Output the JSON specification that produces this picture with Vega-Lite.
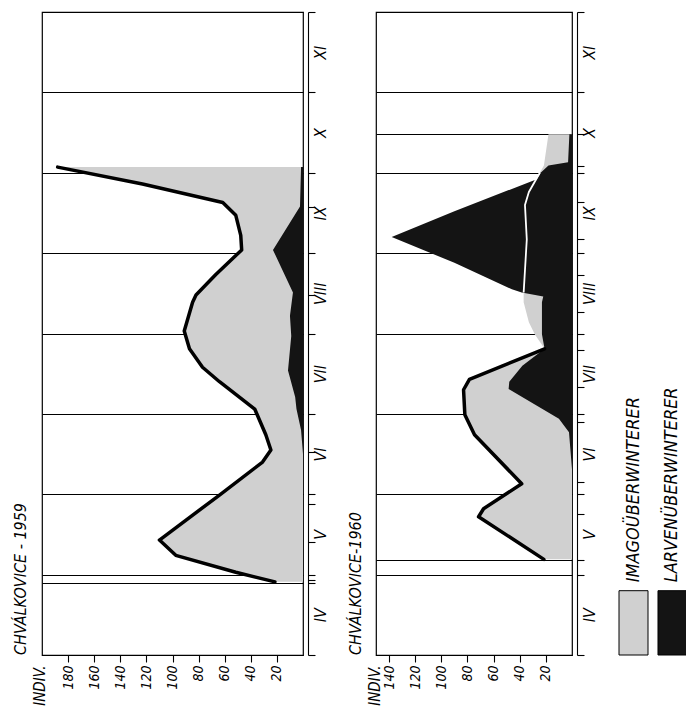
{
  "$schema": "https://vega.github.io/schema/vega-lite/v6.json",
  "background": "white",
  "padding": {"left": 12, "top": 10, "right": 0, "bottom": 0},
  "datasets": {
    "imago59": [
      {"month": 4.91, "n": 21.5}, {"month": 5.03, "n": 51.5}, {"month": 5.24, "n": 97.5}, {"month": 5.43, "n": 110},
      {"month": 5.99, "n": 64}, {"month": 6.4, "n": 31}, {"month": 6.55, "n": 24.6}, {"month": 6.74, "n": 28.5},
      {"month": 7.06, "n": 37}, {"month": 7.4, "n": 64}, {"month": 7.58, "n": 77}, {"month": 7.81, "n": 87},
      {"month": 8.03, "n": 91}, {"month": 8.39, "n": 84.6}, {"month": 8.48, "n": 82}, {"month": 8.73, "n": 67},
      {"month": 9.04, "n": 47}, {"month": 9.22, "n": 47.7}, {"month": 9.47, "n": 51.5}, {"month": 9.63, "n": 61.5},
      {"month": 9.86, "n": 123}, {"month": 10.07, "n": 188}
    ],
    "larvae59": [
      {"month": 6.5, "n": 0}, {"month": 6.8, "n": 1.5}, {"month": 7.06, "n": 5}, {"month": 7.21, "n": 6},
      {"month": 7.54, "n": 11.5}, {"month": 7.97, "n": 9}, {"month": 8.22, "n": 10}, {"month": 8.51, "n": 7.7},
      {"month": 9.04, "n": 23}, {"month": 9.58, "n": 2.3}, {"month": 10.07, "n": 1.5}
    ],
    "imago60": [
      {"month": 5.19, "n": 21.5}, {"month": 5.72, "n": 71.5}, {"month": 5.82, "n": 67.7}, {"month": 6.13, "n": 38.5},
      {"month": 6.74, "n": 74.6}, {"month": 6.99, "n": 82}, {"month": 7.3, "n": 83}, {"month": 7.43, "n": 78.5},
      {"month": 7.81, "n": 21}, {"month": 7.99, "n": 28.5}, {"month": 8.14, "n": 33}, {"month": 8.39, "n": 37},
      {"month": 8.51, "n": 37}, {"month": 9.17, "n": 34.6}, {"month": 9.6, "n": 36}, {"month": 9.76, "n": 33},
      {"month": 10.0, "n": 24.6}, {"month": 10.09, "n": 21.5}, {"month": 10.48, "n": 18}
    ],
    "larvae60": [
      {"month": 6.31, "n": 0}, {"month": 6.77, "n": 2.3}, {"month": 6.94, "n": 10}, {"month": 7.31, "n": 48.5},
      {"month": 7.4, "n": 48}, {"month": 7.6, "n": 38}, {"month": 7.81, "n": 21}, {"month": 7.99, "n": 23},
      {"month": 8.39, "n": 23}, {"month": 8.46, "n": 22}, {"month": 8.51, "n": 38.5}, {"month": 8.55, "n": 46},
      {"month": 8.88, "n": 90}, {"month": 9.2, "n": 138}, {"month": 9.52, "n": 90}, {"month": 9.92, "n": 27},
      {"month": 10.0, "n": 24}, {"month": 10.09, "n": 18}, {"month": 10.13, "n": 3}, {"month": 10.48, "n": 2}
    ],
    "legend": [
      {"series": "IMAGOÜBERWINTERER"},
      {"series": "LARVENÜBERWINTERER"}
    ]
  },
  "hconcat": [
    {
      "hconcat": [
        {
          "width": 261,
          "height": 643,
          "title": {"text": "CHVÁLKOVICE - 1959", "orient": "left", "anchor": "start", "frame": "group", "fontStyle": "italic", "fontWeight": "normal", "fontSize": 16, "offset": 3},
          "encoding": {
            "y": {"field": "month", "type": "quantitative",
              "scale": {"domain": [4, 12], "nice": false, "zero": false},
              "axis": {"orient": "right", "offset": 5, "title": null,
                "values": [4, 4.5, 4.9, 4.93, 5, 5.41, 5.5, 5.88, 6, 6.5, 6.52, 7, 7.5, 8, 8.48, 8.5, 9, 9.5, 9.57, 10, 10.5, 11, 11.5, 12],
                "labelExpr": "datum.value==4.5?'IV':datum.value==5.5?'V':datum.value==6.5?'VI':datum.value==7.5?'VII':datum.value==8.5?'VIII':datum.value==9.5?'IX':datum.value==10.5?'X':datum.value==11.5?'XI':''",
                "labelAngle": 270, "labelAlign": "center", "labelBaseline": "top", "labelPadding": -3, "labelFontSize": 16,
                "labelOverlap": false, "labelFlush": false, "labelBound": false,
                "tickSize": 7,
                "tickOpacity": {"condition": {"test": "datum.value % 1 === 0.5", "value": 0}, "value": 1},
                "grid": true, "gridColor": "black", "gridWidth": 1.1,
                "gridOpacity": {"condition": {"test": "datum.value % 1 === 0 || datum.value === 4.9", "value": 1}, "value": 0}
              }},
            "x": {"field": "n", "type": "quantitative", "stack": null,
              "scale": {"domain": [0, 200], "reverse": true, "nice": false},
              "axis": {"values": [20, 40, 60, 80, 100, 120, 140, 160, 180], "title": "INDIV.",
                "titleAngle": 270, "titleAlign": "right", "titleBaseline": "middle", "titleX": -3, "titleY": 10,
                "titleFontStyle": "italic", "titleFontWeight": "normal", "titleFontSize": 15,
                "labelAngle": 270, "labelAlign": "right", "labelBaseline": "middle", "labelPadding": 3,
                "tickSize": 7, "domain": false, "grid": false, "labelOverlap": false}}
          },
          "layer": [
            {"data": {"name": "imago59"}, "mark": {"type": "area", "orient": "horizontal", "color": "#d0d0d0"}},
            {"data": {"name": "larvae59"}, "mark": {"type": "area", "orient": "horizontal", "color": "#141414"}},
            {"data": {"name": "imago59"}, "mark": {"type": "line", "color": "black", "strokeWidth": 3.5, "strokeJoin": "round", "strokeCap": "round"},
              "encoding": {"order": {"field": "month", "type": "quantitative"}}}
          ]
        },
        {
          "width": 196,
          "height": 643,
          "title": {"text": "CHVÁLKOVICE-1960", "orient": "left", "anchor": "start", "frame": "group", "fontStyle": "italic", "fontWeight": "normal", "fontSize": 16, "offset": 3},
          "encoding": {
            "y": {"field": "month", "type": "quantitative",
              "scale": {"domain": [4, 12], "nice": false, "zero": false},
              "axis": {"orient": "right", "offset": 5, "title": null,
                "values": [4, 4.5, 5, 5.18, 5.5, 5.75, 6, 6.15, 6.5, 6.9, 7, 7.33, 7.5, 7.79, 8, 8.27, 8.5, 8.73, 9, 9.17, 9.5, 9.63, 10, 10.09, 10.48, 10.5, 11, 11.5, 12],
                "labelExpr": "datum.value==4.5?'IV':datum.value==5.5?'V':datum.value==6.5?'VI':datum.value==7.5?'VII':datum.value==8.5?'VIII':datum.value==9.5?'IX':datum.value==10.5?'X':datum.value==11.5?'XI':''",
                "labelAngle": 270, "labelAlign": "center", "labelBaseline": "top", "labelPadding": -3, "labelFontSize": 16,
                "labelOverlap": false, "labelFlush": false, "labelBound": false,
                "tickSize": 7,
                "tickOpacity": {"condition": {"test": "datum.value % 1 === 0.5", "value": 0}, "value": 1},
                "grid": true, "gridColor": "black", "gridWidth": 1.1,
                "gridOpacity": {"condition": {"test": "datum.value % 1 === 0 || datum.value === 5.18 || datum.value === 10.48", "value": 1}, "value": 0}
              }},
            "x": {"field": "n", "type": "quantitative", "stack": null,
              "scale": {"domain": [0, 150], "reverse": true, "nice": false},
              "axis": {"values": [20, 40, 60, 80, 100, 120, 140], "title": "INDIV.",
                "titleAngle": 270, "titleAlign": "right", "titleBaseline": "middle", "titleX": -2, "titleY": 10,
                "titleFontStyle": "italic", "titleFontWeight": "normal", "titleFontSize": 15,
                "labelAngle": 270, "labelAlign": "right", "labelBaseline": "middle", "labelPadding": 3,
                "tickSize": 7, "domain": false, "grid": false, "labelOverlap": false}}
          },
          "layer": [
            {"data": {"name": "imago60"}, "mark": {"type": "area", "orient": "horizontal", "color": "#d0d0d0"}},
            {"data": {"name": "larvae60"}, "mark": {"type": "area", "orient": "horizontal", "color": "#141414"}},
            {"data": {"name": "imago60"}, "transform": [{"filter": "datum.month <= 7.81"}],
              "mark": {"type": "line", "color": "black", "strokeWidth": 3.5, "strokeJoin": "round", "strokeCap": "round"},
              "encoding": {"order": {"field": "month", "type": "quantitative"}}},
            {"data": {"name": "imago60"}, "transform": [{"filter": "datum.month >= 8.51 && datum.month <= 10.0"}],
              "mark": {"type": "line", "color": "white", "strokeWidth": 1.8, "strokeJoin": "round"},
              "encoding": {"order": {"field": "month", "type": "quantitative"}}}
          ]
        }
      ],
      "spacing": 18
    },
    {
      "width": 68,
      "height": 643,
      "view": {"stroke": null},
      "data": {"name": "legend"},
      "encoding": {
        "x": {"field": "series", "type": "nominal", "sort": null, "axis": null,
          "scale": {"paddingInner": 0.256, "paddingOuter": 0}}
      },
      "layer": [
        {"mark": {"type": "bar", "stroke": "black", "strokeWidth": 1},
          "encoding": {
            "y": {"datum": 0, "type": "quantitative", "scale": {"domain": [0, 100], "nice": false}, "axis": null},
            "y2": {"datum": 10},
            "fill": {"field": "series", "type": "nominal", "scale": {"range": ["#d0d0d0", "#141414"]}, "legend": null}
          }},
        {"mark": {"type": "text", "angle": 270, "align": "left", "baseline": "middle", "fontStyle": "italic", "fontSize": 18, "color": "black"},
          "encoding": {
            "y": {"datum": 11.3, "type": "quantitative"},
            "text": {"field": "series", "type": "nominal"}
          }}
      ]
    }
  ],
  "spacing": 20,
  "config": {
    "font": "Liberation Sans Narrow, DejaVu Sans Condensed, Liberation Sans, sans-serif",
    "view": {"stroke": "black", "strokeWidth": 1.2},
    "axis": {"labelFont": "Liberation Sans Narrow, DejaVu Sans Condensed, Liberation Sans, sans-serif",
      "titleFont": "Liberation Sans Narrow, DejaVu Sans Condensed, Liberation Sans, sans-serif",
      "labelFontStyle": "italic", "labelFontSize": 14, "labelColor": "black", "tickColor": "black",
      "domainColor": "black", "domainWidth": 1.1, "tickWidth": 1.1, "titleColor": "black"},
    "title": {"font": "Liberation Sans Narrow, DejaVu Sans Condensed, Liberation Sans, sans-serif", "color": "black"},
    "text": {"font": "Liberation Sans Narrow, DejaVu Sans Condensed, Liberation Sans, sans-serif"}
  }
}
